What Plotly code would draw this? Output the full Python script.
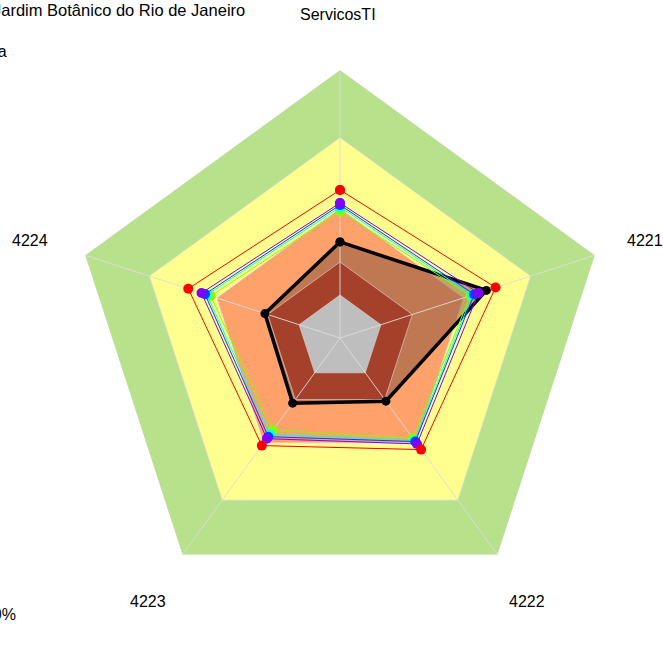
import math
import plotly.graph_objects as go

# ---------------- data ----------------
categories = ["ServicosTI", "4221", "4222", "4223", "4224"]

# band thresholds (percent scale); the gray core ends at 0
band_names = ["green", "yellow", "orange", "darkred", "gray"]
band_values = [100, 70, 38.5, 14.7, 0]
band_colors = ["#B8E18C", "#FFFF8F", "#FFA16B", "#A5402A", "#BEBEBE"]
radial_min = -19.1

series_names = ["verde", "ciano", "azul", "roxo", "vermelho"]
series_colors = ["#80FF00", "#00FFFF", "#0040FF", "#8000FF", "#FF0000"]
series_values = [
    [37.3, 41.8, 36.0, 31.6, 41.3],
    [39.1, 42.7, 37.3, 33.8, 43.1],
    [40.0, 43.6, 37.8, 35.1, 44.0],
    [40.9, 45.6, 39.1, 36.2, 45.6],
    [46.7, 53.6, 42.2, 40.0, 51.8],
]

main_name = "ServicosTI"
main_values = [23.6, 49.3, 15.6, 16.7, 16.0]

title_text = "Instituto de Pesquisas Jardim Botânico do Rio de Janeiro"
side_text_1 = "Média"
side_text_2 = "100%"

# ---------------- layout geometry ----------------
W, H = 663, 666
CX, CY, R = 340, 338, 268
FONT = "Liberation Sans, Arial, sans-serif"


def closed(vals):
    return list(vals) + [vals[0]]


theta_c = closed(categories)
fig = go.Figure()

# bands: outer three first
for name, val, col in zip(band_names[:3], band_values[:3], band_colors[:3]):
    fig.add_trace(go.Scatterpolar(
        r=[val] * (len(categories) + 1), theta=theta_c, mode="lines",
        fill="toself", fillcolor=col,
        line=dict(color="rgba(215,215,215,0.9)", width=0.8),
        hoverinfo="skip", showlegend=False, name=name))

# main series fill (under the inner bands)
fig.add_trace(go.Scatterpolar(
    r=closed(main_values), theta=theta_c, mode="none",
    fill="toself", fillcolor="rgba(129,80,58,0.5)",
    hoverinfo="skip", showlegend=False))

# inner bands
for name, val, col in zip(band_names[3:], band_values[3:], band_colors[3:]):
    fig.add_trace(go.Scatterpolar(
        r=[val] * (len(categories) + 1), theta=theta_c, mode="lines",
        fill="toself", fillcolor=col,
        line=dict(color="rgba(215,200,195,0.9)", width=0.8),
        hoverinfo="skip", showlegend=False, name=name))

# spokes
sr, st = [], []
for c in categories:
    sr += [radial_min, band_values[0], None]
    st += [c, c, None]
fig.add_trace(go.Scatterpolar(
    r=sr, theta=st, mode="lines",
    line=dict(color="rgba(220,220,220,0.9)", width=1),
    hoverinfo="skip", showlegend=False, connectgaps=False))

# main series line
fig.add_trace(go.Scatterpolar(
    r=closed(main_values), theta=theta_c, mode="lines+markers",
    line=dict(color="black", width=3.5),
    marker=dict(color="black", size=9),
    name=main_name, showlegend=False))

# comparison series
for name, col, vals in zip(series_names, series_colors, series_values):
    fig.add_trace(go.Scatterpolar(
        r=closed(vals), theta=theta_c, mode="lines+markers",
        line=dict(color=col, width=1),
        marker=dict(color=col, size=10),
        name=name, showlegend=False))

# ---------------- annotations ----------------
annotations = []
label_cx, label_r = 337.5, 323
for i, c in enumerate(categories):
    ang = math.radians(90 - 72 * i)
    px = label_cx + label_r * math.cos(ang)
    py = CY - label_r * math.sin(ang) + (0 if i == 0 else 2.5)
    annotations.append(dict(
        x=px / W, y=1 - py / H, xref="paper", yref="paper",
        text=c, showarrow=False, xanchor="center", yanchor="middle",
        font=dict(family=FONT, size=16, color="black")))

annotations.append(dict(x=247 / W, y=1 - 10 / H, xref="paper", yref="paper",
                        text=title_text, showarrow=False, xanchor="right",
                        yanchor="middle",
                        font=dict(family=FONT, size=16.5, color="black")))
annotations.append(dict(x=9 / W, y=1 - 51 / H, xref="paper", yref="paper",
                        text=side_text_1, showarrow=False, xanchor="right",
                        yanchor="middle",
                        font=dict(family=FONT, size=16, color="black")))
annotations.append(dict(x=18 / W, y=1 - 614 / H, xref="paper", yref="paper",
                        text=side_text_2, showarrow=False, xanchor="right",
                        yanchor="middle",
                        font=dict(family=FONT, size=16, color="black")))

fig.update_layout(
    width=W, height=H,
    margin=dict(l=0, r=0, t=0, b=0),
    paper_bgcolor="white",
    showlegend=False,
    annotations=annotations,
    polar=dict(
        domain=dict(x=[(CX - R) / W, (CX + R) / W],
                    y=[1 - (CY + R) / H, 1 - (CY - R) / H]),
        bgcolor="rgba(0,0,0,0)",
        gridshape="linear",
        radialaxis=dict(range=[radial_min, band_values[0]], visible=False,
                        showgrid=False),
        angularaxis=dict(rotation=90, direction="clockwise",
                         categoryorder="array", categoryarray=categories,
                         showgrid=False, showline=False,
                         showticklabels=False, ticks=""),
    ),
)

fig.write_html("out.html",
               config={"displayModeBar": False},
               post_script="document.body.style.margin='0px';"
                           "document.body.style.overflow='hidden';")
